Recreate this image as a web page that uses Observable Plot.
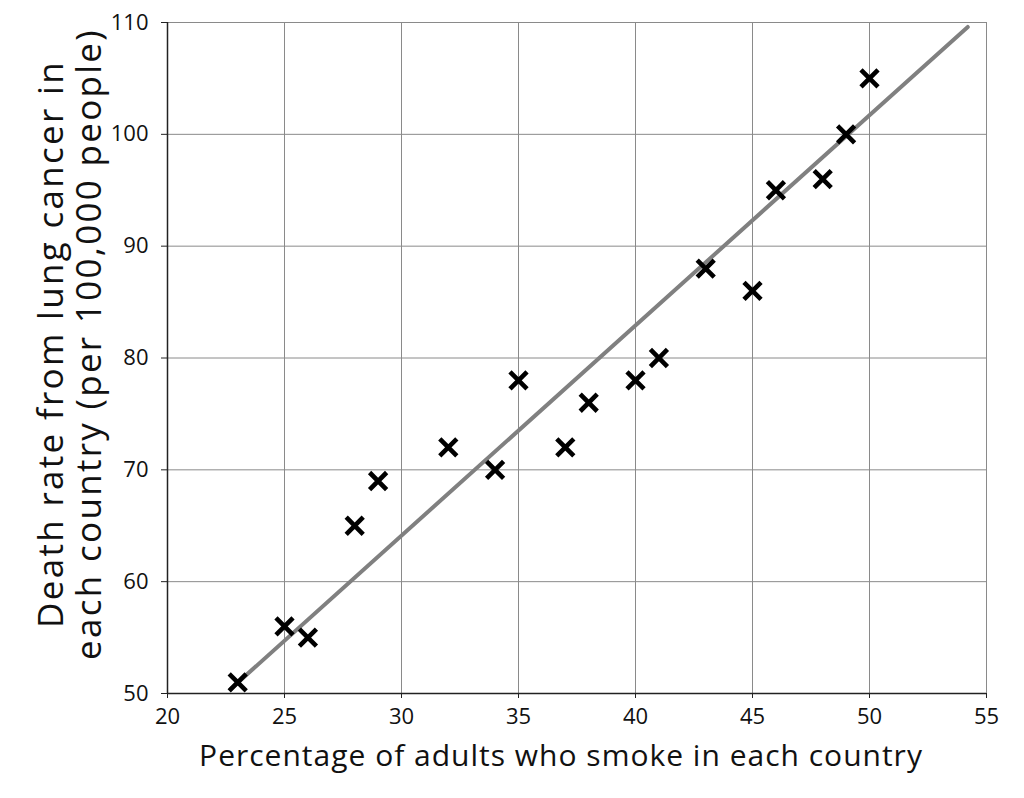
<!DOCTYPE html>
<html>
<head>
<meta charset="utf-8">
<script src="https://cdn.jsdelivr.net/npm/d3@7"></script>
<script src="https://cdn.jsdelivr.net/npm/@observablehq/plot@0.6"></script>
<style>
  html, body { margin: 0; padding: 0; background: #fff; }
  #chart svg { display: block; }
  #chart svg g.xlab text { letter-spacing: 1px; }
  #chart svg g.ylab text { letter-spacing: 2.3px; }
</style>
</head>
<body>
<div id="chart"></div>
<script>
// Percentage of adults who smoke (x) and lung cancer death rate per 100,000 (y)
const smokePct = [23, 25, 26, 28, 29, 32, 34, 35, 37, 38, 40, 41, 43, 45, 46, 48, 49, 50];
const deathRate = [51, 56, 55, 65, 69, 72, 70, 78, 72, 76, 78, 80, 88, 86, 95, 96, 100, 105];

// Trend line end points
const trendX = [22.7, 54.2];
const trendY = [50.4, 109.6];

const xTicks = [20, 25, 30, 35, 40, 45, 50, 55];
const yTicks = [50, 60, 70, 80, 90, 100, 110];

const xLabel = "Percentage of adults who smoke in each country";
const yLabel = "Death rate from lung cancer in\neach country (per 100,000 people)";

const points = smokePct.map((x, i) => ({x, y: deathRate[i]}));
const trend = trendX.map((x, i) => ({x, y: trendY[i]}));

const font = "'Open Sans', Lato, sans-serif";

const chart = Plot.plot({
  width: 1024,
  height: 798,
  marginLeft: 167,
  marginRight: 38,
  marginTop: 22,
  marginBottom: 105,
  style: {fontFamily: font, fontSize: "22px", color: "#111", background: "#fff"},
  x: {domain: [20, 55]},
  y: {domain: [50, 110]},
  marks: [
    Plot.gridX(xTicks, {stroke: "#8a8a8a", strokeOpacity: 1, strokeWidth: 1}),
    Plot.gridY(yTicks, {stroke: "#8a8a8a", strokeOpacity: 1, strokeWidth: 1}),
    Plot.frame({stroke: "#8a8a8a", strokeWidth: 1}),
    Plot.ruleX([20], {stroke: "#222", strokeWidth: 1.5}),
    Plot.ruleY([50], {stroke: "#222", strokeWidth: 1.5}),
    Plot.axisX(xTicks, {tickSize: 5, tickFormat: () => "", label: null, stroke: "#222"}),
    Plot.axisY(yTicks, {tickSize: 6, tickFormat: () => "", label: null, stroke: "#222"}),
    Plot.text(xTicks, {x: d => d, frameAnchor: "bottom", lineAnchor: "top", dy: 15, fontSize: 22, fill: "#111"}),
    Plot.text(yTicks, {y: d => d, frameAnchor: "left", textAnchor: "end", dx: -19, fontSize: 22, fill: "#111"}),
    Plot.line(trend, {x: "x", y: "y", stroke: "#808080", strokeWidth: 4}),
    Plot.dot(points, {x: "x", y: "y", symbol: "times", r: 7.8, stroke: "#000", strokeWidth: 4.6}),
    Plot.text([xLabel], {frameAnchor: "bottom", dx: -16, dy: 72, fontSize: 30, fill: "#111", className: "xlab"}),
    Plot.text([yLabel], {frameAnchor: "left", textAnchor: "middle", dx: -98, dy: -14, rotate: -90, fontSize: 35, lineHeight: 1.09, fill: "#111", className: "ylab"})
  ]
});
document.getElementById("chart").appendChild(chart);
</script>
</body>
</html>
